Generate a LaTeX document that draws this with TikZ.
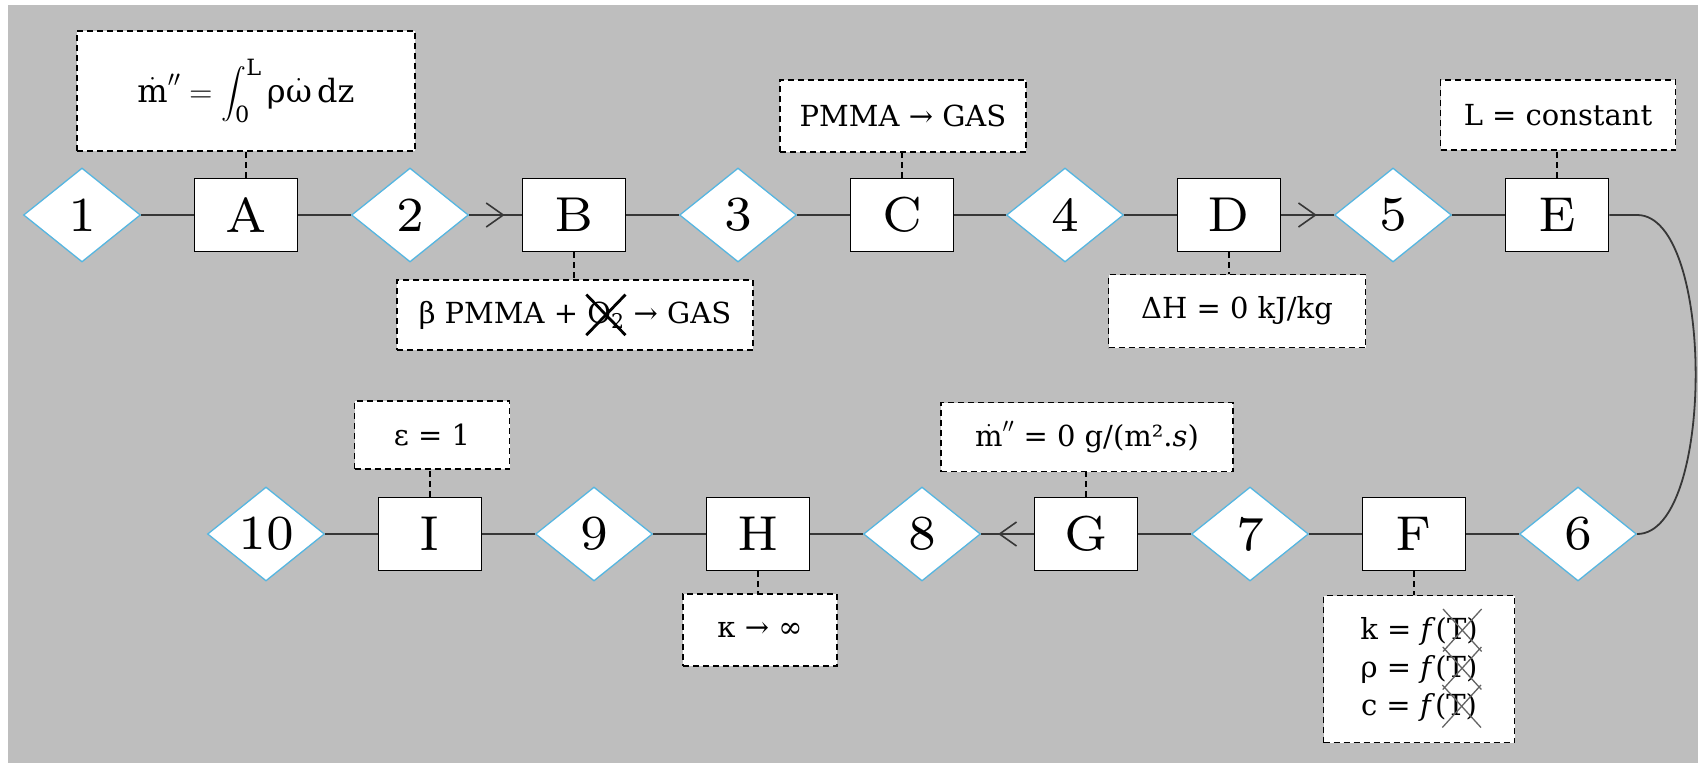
\RequirePackage{fix-cm}
\documentclass[tikz,border=0pt]{standalone}
\usepackage{amsmath}
\usepackage{fontspec}
\usetikzlibrary{shapes.geometric,arrows.meta,calc}
\newfontfamily\annfam{DejaVu Serif}
\newfontfamily\labfam{lmroman7-regular.otf}
\definecolor{bggray}{RGB}{190,190,190}
\definecolor{diablue}{RGB}{85,182,225}
\definecolor{linegray}{RGB}{55,55,55}
\definecolor{xgray}{RGB}{100,100,100}
\newcommand\annf{\annfam\fontsize{29}{38}\selectfont}
\newcommand\labf{\labfam\fontsize{49}{58}\selectfont}
% cross-out macro: #1 content, #2 colour, #3 line width, #4 x extension, #5 y extension
\newcommand\crossout[5]{\tikz[baseline=(xx.base)]{\node[inner sep=0pt,outer sep=0pt,draw=none,fill=none,anchor=base,minimum width=0pt,minimum height=0pt,font=] (xx) at (0pt,0pt) {#1};
\draw[overlay,solid,draw=#2,line width=#3] ([shift={(-#4,-#5)}]xx.south west) -- ([shift={(#4,#5)}]xx.north east) ([shift={(-#4,#5)}]xx.north west) -- ([shift={(#4,-#5)}]xx.south east);}}
\tikzset{
  dia/.style={diamond, draw=diablue, fill=white, line width=1.3pt, minimum width=117pt, minimum height=94pt, inner sep=0pt, font=\labf},
  boxn/.style={rectangle, draw=black, fill=white, line width=1.8pt, minimum width=103pt, minimum height=73pt, inner sep=0pt, font=\labf},
  annot/.style={rectangle, draw=black, fill=white, line width=1.3pt, dash pattern=on 6pt off 4pt, inner sep=0pt, font=\annf, align=center},
  conn/.style={draw=linegray, line width=1.8pt},
  dconn/.style={draw=black, line width=1.3pt, dash pattern=on 6pt off 4pt},
  arr/.style={conn, -{Straight Barb[length=17pt,width=24pt,line width=1.6pt]}, shorten >=17pt},
}
\begin{document}
\begin{tikzpicture}[x=1pt,y=-1pt]
\useasboundingbox (0,0) rectangle (1701,763);
\fill[bggray] (8,5) rectangle (1698,763);
% top row
\node[dia]  (n1) at (82,215)   {1};
\node[boxn] (A)  at (246,215)  {A};
\node[dia]  (n2) at (410,215)  {2};
\node[boxn] (B)  at (574,215)  {B};
\node[dia]  (n3) at (738,215)  {3};
\node[boxn] (C)  at (902,215)  {C};
\node[dia]  (n4) at (1065,215) {4};
\node[boxn] (D)  at (1229,215) {D};
\node[dia]  (n5) at (1393,215) {5};
\node[boxn] (E)  at (1557,215) {E};
% bottom row
\node[dia]  (n6)  at (1578,534) {6};
\node[boxn] (F)   at (1414,534) {F};
\node[dia]  (n7)  at (1250,534) {7};
\node[boxn] (G)   at (1086,534) {G};
\node[dia]  (n8)  at (922,534)  {8};
\node[boxn] (H)   at (758,534)  {H};
\node[dia]  (n9)  at (594,534)  {9};
\node[boxn] (I)   at (430,534)  {I};
\node[dia]  (n10) at (266,534)  {10};
% annotations
\node[annot, minimum width=338pt, minimum height=120pt] (aA) at (246,91)
  {\fontsize{32}{40}\selectfont$\dot{\text{m}}'' = \displaystyle\int_{\text{0}}^{\text{L}}\text{ρ}\dot{\text{ω}}\,\text{dz}$};
\node[annot, minimum width=356pt, minimum height=70pt] (aB) at (575,315)
  {β PMMA + \crossout{O\textsubscript{2}}{black}{2.8pt}{1pt}{7pt} → GAS};
\node[annot, minimum width=246pt, minimum height=72pt] (aC) at (903,116) {PMMA → GAS};
\node[annot, minimum width=257pt, minimum height=73pt] (aD) at (1237,311) {ΔH = 0 kJ/kg};
\node[annot, minimum width=235pt, minimum height=70pt] (aE) at (1558,115) {L = constant};
\node[annot, minimum width=191pt, minimum height=147pt] (aF) at (1419,669)
  {k = \textit{f}(\crossout{T)}{xgray}{1.3pt}{4pt}{8pt}\\
   ρ = \textit{f}(\crossout{T)}{xgray}{1.3pt}{4pt}{8pt}\\
   c = \textit{f}(\crossout{T)}{xgray}{1.3pt}{4pt}{8pt}};
\node[annot, minimum width=292pt, minimum height=69pt] (aG) at (1087,437)
  {$\dot{\text{m}}''$ = 0 g/(m².\textit{s})};
\node[annot, minimum width=154pt, minimum height=72pt] (aH) at (760,630) {κ → ∞};
\node[annot, minimum width=155pt, minimum height=68pt] (aI) at (432,435) {ε = 1};
% dashed connectors
\draw[dconn] (A.north) -- (A.north |- aA.south);
\draw[dconn] (B.south) -- (B.south |- aB.north);
\draw[dconn] (C.north) -- (C.north |- aC.south);
\draw[dconn] (D.south) -- (D.south |- aD.north);
\draw[dconn] (E.north) -- (E.north |- aE.south);
\draw[dconn] (F.south) -- (F.south |- aF.north);
\draw[dconn] (G.north) -- (G.north |- aG.south);
\draw[dconn] (H.south) -- (H.south |- aH.north);
\draw[dconn] (I.north) -- (I.north |- aI.south);
% main connectors
\draw[conn] (n1) -- (A);
\draw[conn] (A) -- (n2);
\draw[conn] (n2) -- (B);
\draw[arr]  (n2) -- (B);
\draw[conn] (B) -- (n3);
\draw[conn] (n3) -- (C);
\draw[conn] (C) -- (n4);
\draw[conn] (n4) -- (D);
\draw[conn] (D) -- (n5);
\draw[arr]  (D) -- (n5);
\draw[conn] (n5) -- (E);
\draw[conn] (E.east) -- (E.east -| n6.east) .. controls +(78,0) and +(78,0) .. (n6.east);
\draw[conn] (n6) -- (F);
\draw[conn] (F) -- (n7);
\draw[conn] (n7) -- (G);
\draw[conn] (G) -- (n8);
\draw[arr]  (G) -- (n8);
\draw[conn] (n8) -- (H);
\draw[conn] (H) -- (n9);
\draw[conn] (n9) -- (I);
\draw[conn] (I) -- (n10);
\end{tikzpicture}
\end{document}
